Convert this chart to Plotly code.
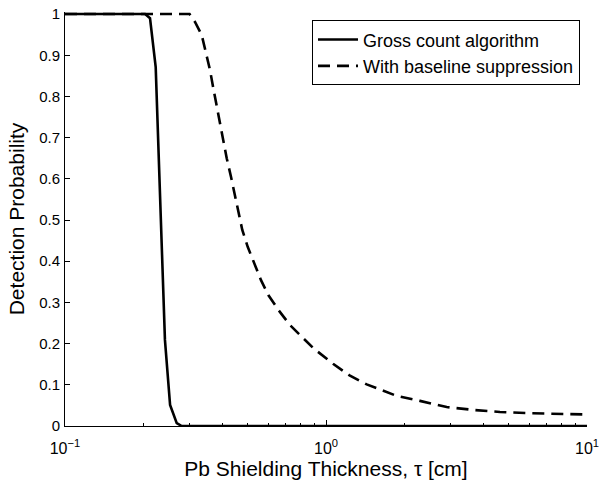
import plotly.graph_objects as go

# Gross count algorithm (solid)
gross_x = [0.1, 0.15, 0.2, 0.2027, 0.2117, 0.2226, 0.2415, 0.2527, 0.268, 0.28, 0.4, 1.0, 10.0]
gross_y = [1.0, 1.0, 1.0, 1.0, 0.99, 0.871, 0.209, 0.051, 0.007, 0.0, 0.0, 0.0, 0.0]

# With baseline suppression (dashed)
base_x = [0.1, 0.2, 0.30, 0.3148, 0.3341, 0.3470, 0.3594, 0.3700, 0.3813, 0.3926, 0.4042,
          0.4165, 0.4325, 0.4454, 0.4613, 0.4778, 0.5012, 0.5312, 0.5636, 0.601, 0.6565,
          0.7278, 0.8185, 0.894, 1.064, 1.236, 1.432, 1.61, 1.866, 2.29, 2.90, 3.67,
          4.64, 6.05, 9.12, 10.0]
base_y = [1.0, 1.0, 1.0, 0.981, 0.949, 0.905, 0.864, 0.82, 0.775, 0.73, 0.69,
          0.65, 0.605, 0.565, 0.52, 0.476, 0.435, 0.395, 0.354, 0.318, 0.282,
          0.245, 0.213, 0.189, 0.151, 0.122, 0.101, 0.089, 0.073, 0.061, 0.046, 0.039,
          0.034, 0.031, 0.028, 0.028]

x_tickvals = [0.1, 1, 10]
x_ticktext = ["10<sup>\u22121</sup>", "10<sup>0</sup>", "10<sup>1</sup>"]
x_minor = [0.2, 0.3, 0.4, 0.5, 0.6, 0.7, 0.8, 0.9, 2, 3, 4, 5, 6, 7, 8, 9]
y_tickvals = [0, 0.1, 0.2, 0.3, 0.4, 0.5, 0.6, 0.7, 0.8, 0.9, 1]
y_ticktext = ["0", "0.1", "0.2", "0.3", "0.4", "0.5", "0.6", "0.7", "0.8", "0.9", "1"]

FONT = "Liberation Sans, Arial, Helvetica, sans-serif"

fig = go.Figure()
fig.add_trace(go.Scatter(x=gross_x, y=gross_y, mode="lines", name="Gross count algorithm",
                         line=dict(color="black", width=2.6)))
fig.add_trace(go.Scatter(x=base_x, y=base_y, mode="lines", name="With baseline suppression",
                         line=dict(color="black", width=2.6, dash="12px,7px")))

fig.update_layout(
    width=604, height=482,
    margin=dict(l=65, r=17, t=12, b=56, autoexpand=False),
    paper_bgcolor="white", plot_bgcolor="white",
    font=dict(family=FONT, color="black", size=15),
    showlegend=True,
    legend=dict(x=0.9866, y=0.98, xanchor="right", yanchor="top",
                bordercolor="black", borderwidth=1, bgcolor="white",
                font=dict(size=18, family=FONT), tracegroupgap=0, itemwidth=40),
    xaxis=dict(type="log", range=[-1, 1], tickvals=x_tickvals, ticktext=x_ticktext,
               ticks="inside", ticklen=6, tickwidth=1, tickcolor="black",
               showline=True, linecolor="black", linewidth=1, showgrid=False, zeroline=False,
               tickfont=dict(size=16), automargin=False, ticklabelstandoff=8,
               minor=dict(tickvals=x_minor, ticks="inside", ticklen=3, tickcolor="black", showgrid=False),
               title=dict(text="Pb Shielding Thickness, \u03c4 [cm]", font=dict(size=21), standoff=3)),
    yaxis=dict(range=[0, 1.005], tickvals=y_tickvals, ticktext=y_ticktext,
               ticks="inside", ticklen=5, tickwidth=1, tickcolor="black",
               showline=True, linecolor="black", linewidth=1, showgrid=False, zeroline=False,
               tickfont=dict(size=15), automargin=False, ticklabelstandoff=1,
               title=dict(text="Detection Probability", font=dict(size=21), standoff=8)),
)

fig.write_html("out.html", config={"displayModeBar": False},
               post_script="document.body.style.margin='0';")
